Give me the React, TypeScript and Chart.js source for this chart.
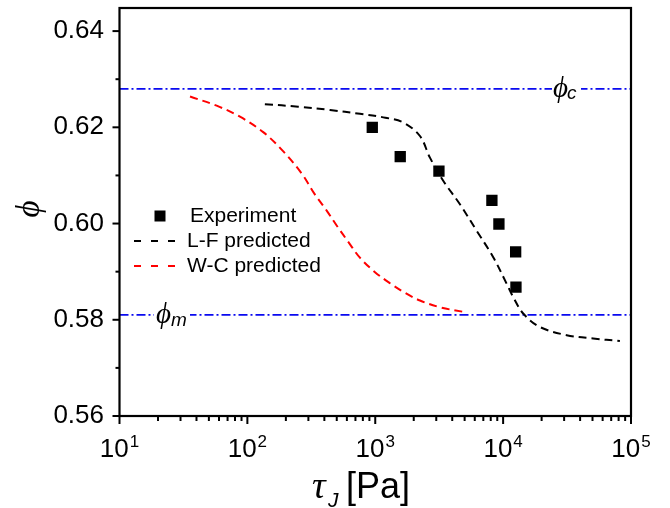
import React, { useEffect, useRef } from "react";
import { Chart, registerables } from "chart.js";

Chart.register(...registerables);

// ---- data ----
const expX = [948, 1568, 3148, 8170, 9270, 12530, 12600];
const expY = [0.620, 0.6139, 0.6109, 0.6048, 0.5999, 0.5941, 0.5868];

const lfX = [137, 250, 443, 759, 1200, 1655, 2236, 2677, 3400, 4595, 6210, 8370, 10650, 12000, 14350, 19400, 31400, 50600, 81900];
const lfY = [0.6248, 0.6243, 0.6236, 0.6228, 0.622, 0.621, 0.6182, 0.6137, 0.6089, 0.604, 0.5985, 0.593, 0.5875, 0.5847, 0.5813, 0.5785, 0.5768, 0.5761, 0.5756];

const wcX = [35.6, 57.5, 87.5, 133, 191, 266, 338, 417, 499, 615, 759, 995, 1303, 1706, 2236, 3206, 5000];
const wcY = [0.6264, 0.6245, 0.6222, 0.6190, 0.6150, 0.6104, 0.6060, 0.6027, 0.5996, 0.5962, 0.5929, 0.5899, 0.5876, 0.5856, 0.5840, 0.5826, 0.5816];

const phiC = 0.628;
const phiM = 0.581;

const xRange = [10, 100000];
const yRange = [0.56, 0.6448];
const yMajorTicks = [0.56, 0.58, 0.60, 0.62, 0.64];
const yMinorTicks = [0.57, 0.59, 0.61, 0.63];
const xDecadeExp = [1, 2, 3, 4, 5];
const legendLabels = ["Experiment", "L-F predicted", "W-C predicted"];

const SANS = "'Liberation Sans', Arial, sans-serif";
const SERIF = "'Liberation Serif', 'DejaVu Serif', serif";
const BLUE = "#0a0af0";

const decorPlugin = {
  id: "decor",
  afterDatasetsDraw(chart: any) {
    const ctx = chart.ctx;
    const ca = chart.chartArea;
    const xs = chart.scales.x;
    const ys = chart.scales.y;
    ctx.save();

    // label gaps on reference lines
    const yc = ys.getPixelForValue(phiC);
    const ym = ys.getPixelForValue(phiM);
    ctx.fillStyle = "#fff";
    ctx.fillRect(552, yc - 4, 29, 8);
    ctx.fillRect(154, ym - 4, 36, 8);

    // phi_c label
    ctx.fillStyle = "#000";
    ctx.textBaseline = "alphabetic";
    ctx.textAlign = "left";
    ctx.font = "italic 29px " + SERIF;
    ctx.fillText("\u03D5", 553, yc + 8);
    ctx.font = "italic 19px " + SANS;
    ctx.fillText("c", 567, yc + 10);
    // phi_m label
    ctx.font = "italic 29px " + SERIF;
    ctx.fillText("\u03D5", 156, ym + 8);
    ctx.font = "italic 19px " + SANS;
    ctx.fillText("m", 171, ym + 11);

    // frame
    ctx.strokeStyle = "#000";
    ctx.lineWidth = 2.2;
    ctx.setLineDash([]);
    ctx.strokeRect(ca.left, ca.top, ca.right - ca.left, ca.bottom - ca.top);

    // x ticks
    ctx.lineWidth = 2;
    for (const e of xDecadeExp) {
      const px = xs.getPixelForValue(Math.pow(10, e));
      ctx.beginPath();
      ctx.moveTo(px, ca.bottom);
      ctx.lineTo(px, ca.bottom + 8);
      ctx.stroke();
      if (e < 5) {
        for (let k = 2; k <= 9; k++) {
          const mx = xs.getPixelForValue(k * Math.pow(10, e));
          ctx.beginPath();
          ctx.moveTo(mx, ca.bottom);
          ctx.lineTo(mx, ca.bottom + 5);
          ctx.stroke();
        }
      }
      // label 10^e
      ctx.font = "26px " + SANS;
      const wBase = ctx.measureText("10").width;
      ctx.font = "17px " + SANS;
      const wExp = ctx.measureText(String(e)).width;
      const total = wBase + 1 + wExp;
      const x0 = px - total / 2;
      ctx.textAlign = "left";
      ctx.textBaseline = "alphabetic";
      ctx.font = "26px " + SANS;
      ctx.fillText("10", x0, 457);
      ctx.font = "17px " + SANS;
      ctx.fillText(String(e), x0 + wBase + 1, 447);
    }

    // y ticks
    for (const v of yMajorTicks) {
      const py = ys.getPixelForValue(v);
      ctx.beginPath();
      ctx.moveTo(ca.left, py);
      ctx.lineTo(ca.left - 7, py);
      ctx.stroke();
      ctx.font = "26px " + SANS;
      ctx.textAlign = "right";
      ctx.textBaseline = "middle";
      ctx.fillText(v.toFixed(2), 104, py);
    }
    for (const v of yMinorTicks) {
      const py = ys.getPixelForValue(v);
      ctx.beginPath();
      ctx.moveTo(ca.left, py);
      ctx.lineTo(ca.left - 4, py);
      ctx.stroke();
    }

    // axis titles
    ctx.textAlign = "left";
    ctx.textBaseline = "alphabetic";
    ctx.font = "italic 38px " + SERIF;
    ctx.fillText("\u03C4", 312, 498);
    ctx.font = "italic 21px " + SANS;
    ctx.fillText("J", 328, 507);
    ctx.font = "36px " + SANS;
    ctx.fillText("[Pa]", 346, 498);

    ctx.save();
    ctx.translate(30, 209);
    ctx.rotate(-Math.PI / 2);
    ctx.textAlign = "center";
    ctx.textBaseline = "middle";
    ctx.font = "italic 33px " + SERIF;
    ctx.fillText("\u03D5", 0, 0);
    ctx.restore();

    // legend
    ctx.fillStyle = "#000";
    ctx.fillRect(154.5, 210.5, 11, 11);
    ctx.lineWidth = 2;
    ctx.setLineDash([7, 10]);
    ctx.strokeStyle = "#000";
    ctx.beginPath();
    ctx.moveTo(134, 241);
    ctx.lineTo(185, 241);
    ctx.stroke();
    ctx.strokeStyle = "#ff0000";
    ctx.beginPath();
    ctx.moveTo(134, 266);
    ctx.lineTo(185, 266);
    ctx.stroke();
    ctx.setLineDash([]);
    ctx.font = "21px " + SANS;
    ctx.textAlign = "left";
    ctx.textBaseline = "middle";
    ctx.fillStyle = "#000";
    ctx.fillText(legendLabels[0], 190, 216);
    ctx.fillText(legendLabels[1], 187, 241);
    ctx.fillText(legendLabels[2], 187, 266);

    ctx.restore();
  },
};

export default function App() {
  const ref = useRef<HTMLCanvasElement | null>(null);
  useEffect(() => {
    if (!ref.current) return;
    const chart = new Chart(ref.current, {
      type: "scatter",
      data: {
        datasets: [
          {
            label: legendLabels[0],
            data: expX.map((x, i) => ({ x, y: expY[i] })),
            pointStyle: "rect",
            pointRadius: 8,
            backgroundColor: "#000",
            borderColor: "#000",
            borderWidth: 0,
            showLine: false,
            order: 0,
          },
          {
            type: "line",
            label: legendLabels[1],
            data: lfX.map((x, i) => ({ x, y: lfY[i] })),
            borderColor: "#000",
            borderWidth: 2,
            borderDash: [8, 5],
            pointRadius: 0,
            tension: 0.35,
            fill: false,
            order: 1,
          },
          {
            type: "line",
            label: legendLabels[2],
            data: wcX.map((x, i) => ({ x, y: wcY[i] })),
            borderColor: "#ff0000",
            borderWidth: 2,
            borderDash: [8, 5],
            pointRadius: 0,
            tension: 0.35,
            fill: false,
            order: 2,
          },
          {
            type: "line",
            label: "phi_c",
            data: [{ x: xRange[0], y: phiC }, { x: xRange[1], y: phiC }],
            borderColor: BLUE,
            borderWidth: 1.8,
            borderDash: [9, 3, 2, 3],
            pointRadius: 0,
            fill: false,
            order: 3,
          },
          {
            type: "line",
            label: "phi_m",
            data: [{ x: xRange[0], y: phiM }, { x: xRange[1], y: phiM }],
            borderColor: BLUE,
            borderWidth: 1.8,
            borderDash: [9, 3, 2, 3],
            pointRadius: 0,
            fill: false,
            order: 4,
          },
        ],
      } as any,
      options: {
        animation: false,
        responsive: false,
        devicePixelRatio: 1,
        layout: { padding: { top: 6, right: 39, bottom: 0, left: 0 } },
        plugins: { legend: { display: false }, tooltip: { enabled: false }, title: { display: false } },
        scales: {
          x: {
            type: "logarithmic",
            min: xRange[0],
            max: xRange[1],
            grid: { display: false },
            border: { display: false },
            ticks: { display: false },
            afterFit: (s: any) => {
              s.height = 92;
            },
          },
          y: {
            type: "linear",
            min: yRange[0],
            max: yRange[1],
            grid: { display: false },
            border: { display: false },
            ticks: { display: false },
            afterFit: (s: any) => {
              s.width = 119.5;
            },
          },
        },
      } as any,
      plugins: [decorPlugin],
    });
    return () => chart.destroy();
  }, []);
  return (
    <div style={{ position: "absolute", left: 0, top: 0, width: 670, height: 508, background: "#fff" }}>
      <canvas ref={ref} width={670} height={508} style={{ display: "block" }} />
    </div>
  );
}
